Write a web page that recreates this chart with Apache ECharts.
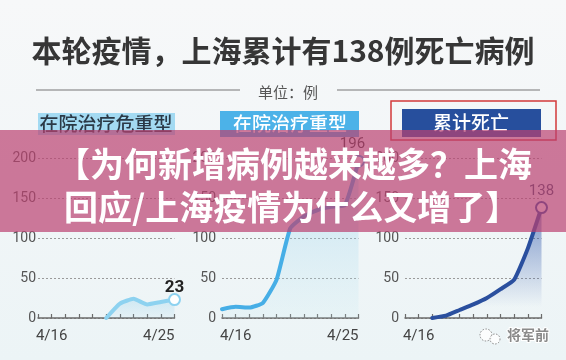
<!DOCTYPE html>
<html>
<head>
<meta charset="utf-8">
<script src="https://cdn.jsdelivr.net/npm/echarts@6/dist/echarts.min.js"></script>
<style>html,body{margin:0;padding:0;background:#f3f6f7}#c{width:566px;height:360px}</style>
</head>
<body>
<div id="c"></div>
<script>
// ---- data ----
const categories = ['4/15','4/16','4/17','4/18','4/19','4/20','4/21','4/22','4/23','4/24','4/25'];
const critical = [null, null, null, null, null, 0, 18, 24, 17, 20, 23];
const severe = [11, 14, 13, 19, 48, 112, 127, 135, 139, 141, 196];
const deaths = [null, null, 0, 3, 10, 17, 25, 36, 48, 87, 138];
const yMax = 200, yStep = 50;
const panelTitles = ['在院治疗危重型', '在院治疗重型', '累计死亡'];
const shownLabels = [['4/16','4/25'], ['4/16','4/25'], ['4/16']];
const titleText = '本轮疫情，上海累计有138例死亡病例';
const unitText = '单位：例';
const bannerLines = ['【为何新增病例越来越多？上海', '回应/上海疫情为什么又增了】'];
const watermark = '将军前';

const chart = echarts.init(document.getElementById('c'), null, {renderer: 'canvas'});

const lefts = [38, 222, 405];
const lineColors = ['#8dd2f0', '#46aee6', '#2a4f9e'];
const labelMargins = [2, 6, 6];
const areaColors = [
  [['rgba(140,205,235,0.45)', 0], ['rgba(140,205,235,0.12)', 1]],
  [['rgba(120,195,235,0.55)', 0], ['rgba(200,235,242,0.25)', 1]],
  [['rgba(45,85,170,0.85)', 0], ['rgba(45,85,170,0.0)', 0.9]]
];
const endLabels = [
  {fontSize: 17, fontWeight: 'bold', color: '#222', distance: 1, offset: [0, 4]},
  {fontSize: 15, fontWeight: 'normal', color: '#333', distance: 3, offset: [-6, 0]},
  {fontSize: 15, fontWeight: 'normal', color: '#3d4b6b', distance: 2, offset: [0, 0]}
];
const seriesData = [critical, severe, deaths];

const grids = [], xAxes = [], yAxes = [], series = [];
for (let i = 0; i < 3; i++) {
  grids.push({left: lefts[i], top: 158, width: 136.5, height: 160});
  const show = shownLabels[i];
  xAxes.push({
    type: 'category', gridIndex: i, data: categories, boundaryGap: false,
    axisLine: {lineStyle: {color: '#6b6b6b', width: 1.5}},
    axisTick: {inside: true, length: 4, lineStyle: {color: '#6b6b6b', width: 1.2}, interval: 0},
    axisLabel: {
      interval: 0, margin: 11, fontSize: 15, color: '#444', fontFamily: 'Roboto',
      formatter: v => show.indexOf(v) >= 0 ? v : '',
      alignMaxLabel: 'right'
    },
    splitLine: {show: false}
  });
  yAxes.push({
    type: 'value', gridIndex: i, min: 0, max: yMax, interval: yStep,
    axisLine: {show: false}, axisTick: {show: false},
    axisLabel: {margin: labelMargins[i], fontSize: 14, color: '#555', fontFamily: 'Roboto'},
    splitLine: {show: true, lineStyle: {color: '#9a9a9a', width: 1, type: [2, 2]}}
  });
  const arr = seriesData[i];
  const data = arr.map((v, k) => {
    if (k === arr.length - 1) {
      const el = endLabels[i];
      return {
        value: v, symbol: 'circle', symbolSize: 11,
        itemStyle: {color: '#ffffff', borderColor: lineColors[i], borderWidth: 2},
        label: {show: true, position: 'top', distance: el.distance, offset: el.offset,
          fontSize: el.fontSize, fontWeight: el.fontWeight, color: el.color, fontFamily: 'Roboto'}
      };
    }
    return v;
  });
  const ac = areaColors[i];
  series.push({
    type: 'line', xAxisIndex: i, yAxisIndex: i, data: data,
    symbol: 'none', smooth: 0.15, connectNulls: false,
    lineStyle: {color: lineColors[i], width: 4, cap: 'round', join: 'round'},
    itemStyle: {color: lineColors[i]},
    areaStyle: {color: new echarts.graphic.LinearGradient(0, 0, 0, 1,
      ac.map(c => ({offset: c[1], color: c[0]})))},
    z: 3
  });
}

const CJK = '"Noto Sans CJK SC", sans-serif';
const graphics = [
  {type: 'rect', z: -100, silent: true, shape: {x: 0, y: 0, width: 566, height: 360},
    style: {fill: new echarts.graphic.LinearGradient(0, 0, 0, 1, [
      {offset: 0, color: '#f7f8f9'}, {offset: 1, color: '#ecf4f6'}])}},
  {type: 'text', z: 10, style: {text: titleText, x: 283, y: 51, textAlign: 'center', textVerticalAlign: 'middle',
    font: 'bold 30px ' + CJK, fill: '#363636'}},
  {type: 'line', z: 10, shape: {x1: 36, y1: 90, x2: 240, y2: 90}, style: {stroke: '#777', lineWidth: 1.2}},
  {type: 'line', z: 10, shape: {x1: 337, y1: 90, x2: 540, y2: 90}, style: {stroke: '#777', lineWidth: 1.2}},
  {type: 'text', z: 10, style: {text: unitText, x: 288, y: 92, textAlign: 'center', textVerticalAlign: 'middle',
    font: '15px ' + CJK, fill: '#555'}},
  // panel headers
  {type: 'rect', z: 10, shape: {x: 38, y: 113, width: 137, height: 22}, style: {fill: '#a3daf2'}},
  {type: 'text', z: 11, style: {text: panelTitles[0], x: 106, y: 124, textAlign: 'center', textVerticalAlign: 'middle',
    font: '500 19px ' + CJK, fill: '#2b3946'}},
  {type: 'rect', z: 10, shape: {x: 220, y: 111, width: 139, height: 26}, style: {fill: '#4cb2e8'}},
  {type: 'text', z: 11, style: {text: panelTitles[1], x: 290, y: 124, textAlign: 'center', textVerticalAlign: 'middle',
    font: '500 19px ' + CJK, fill: '#ffffff'}},
  {type: 'rect', z: 10, shape: {x: 402, y: 109, width: 139, height: 28}, style: {fill: '#274f9d'}},
  {type: 'text', z: 11, style: {text: panelTitles[2], x: 471, y: 123, textAlign: 'center', textVerticalAlign: 'middle',
    font: '500 19px ' + CJK, fill: '#ffffff'}},
  {type: 'rect', z: 12, shape: {x: 391, y: 101, width: 165, height: 39},
    style: {fill: 'none', stroke: '#d23a3a', lineWidth: 1.5}},
  // banner overlay
  {type: 'rect', z: 100, silent: true, shape: {x: 0, y: 130, width: 566, height: 102},
    style: {fill: 'rgba(186,66,112,0.70)'}},
  {type: 'text', z: 101, style: {text: bannerLines[0], x: 532, y: 164, textAlign: 'right', textVerticalAlign: 'middle',
    font: 'bold 34px ' + CJK, fill: '#ffffff'}},
  {type: 'text', z: 101, style: {text: bannerLines[1], x: 64, y: 207, textAlign: 'left', textVerticalAlign: 'middle',
    font: 'bold 34px ' + CJK, fill: '#ffffff'}},
  // watermark
  {type: 'circle', z: 20, shape: {cx: 486, cy: 335, r: 6}, style: {fill: 'rgba(255,255,255,0.8)', stroke: '#888', lineWidth: 1, lineDash: [1.5, 1.5]}},
  {type: 'circle', z: 20, shape: {cx: 495, cy: 339, r: 5}, style: {fill: 'rgba(255,255,255,0.8)', stroke: '#888', lineWidth: 1, lineDash: [1.5, 1.5]}},
  {type: 'text', z: 20, style: {text: watermark, x: 528, y: 335, textAlign: 'center', textVerticalAlign: 'middle',
    font: 'bold 14px ' + CJK, fill: '#8a8a8a', stroke: '#ffffff', lineWidth: 2}}
];

chart.setOption({
  backgroundColor: '#f3f6f7',
  animation: false,
  grid: grids, xAxis: xAxes, yAxis: yAxes, series: series,
  graphic: graphics
});
</script>
</body>
</html>
